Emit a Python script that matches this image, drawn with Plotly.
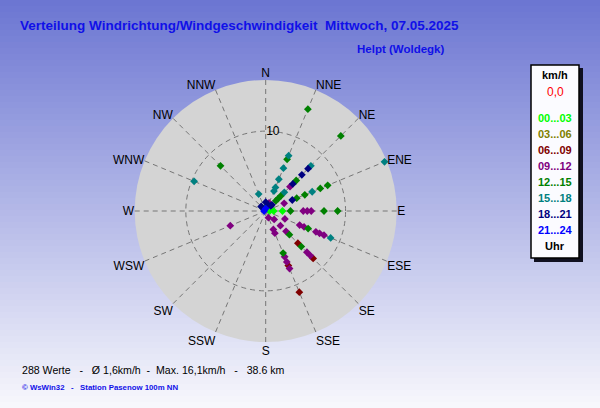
import plotly.graph_objects as go

# ---------------- data ----------------
compass = ["N", "NNE", "NE", "ENE", "E", "ESE", "SE", "SSE",
           "S", "SSW", "SW", "WSW", "W", "WNW", "NW", "NNW"]

bucket_labels = ["00...03", "03...06", "06...09", "09...12",
                 "12...15", "15...18", "18...21", "21...24"]

dir_00_03 = ["E", "E", "E", "NE"]
spd_00_03 = [2.1, 1.0, 0.5, 0.4]

dir_03_06 = []
spd_03_06 = []

dir_06_09 = ["SE", "SE", "SSE", "SSE"]
spd_06_09 = [5.7, 8.4, 7.4, 11.0]

dir_09_12 = ["E", "E", "E", "ENE", "NE", "NNE",
             "SSE", "SSE", "SSE", "SSE", "SSE", "SSE",
             "SE", "SE", "SE", "SE", "SE",
             "ESE", "ESE", "ESE", "ESE", "ESE", "ESE", "WSW"]
spd_09_12 = [4.7, 5.2, 5.7, 2.5, 4.3, 1.1,
             0.9, 2.5, 3.0, 6.2, 6.9, 7.8,
             1.5, 2.6, 3.6, 7.3, 7.9,
             2.6, 4.6, 5.2, 6.8, 7.3, 7.9, 4.8]

dir_12_15 = ["NNE", "NNE", "NE", "NE", "NE", "NE", "NE",
             "ENE", "ENE", "ENE", "ENE", "E", "E", "E",
             "SE", "SE", "ESE", "SSE", "NW"]
spd_12_15 = [13.8, 7.0, 13.3, 5.4, 2.7, 2.2, 1.8,
             8.4, 7.4, 5.3, 4.2, 9.0, 7.3, 3.1,
             4.2, 6.3, 5.75, 5.7, 8.0]

dir_15_18 = ["ENE", "ENE", "NE", "NE", "NNE", "NNE", "NNE", "NNE", "NNE",
             "NNW", "WNW", "ESE", "NW", "N"]
spd_15_18 = [16.1, 6.3, 8.0, 3.3, 7.5, 5.8, 4.3, 3.2, 2.7,
             2.3, 9.7, 8.8, 0.6, 0.5]

dir_18_21 = ["NE", "NE", "NE", "ENE", "N", "NNE", "NE", "NE", "NW"]
spd_18_21 = [7.5, 6.4, 4.8, 3.6, 1.1, 0.8, 1.1, 0.9, 0.8]

dir_21_24 = ["W", "N"]
spd_21_24 = [0.2, 0.3]

bucket_dirs = [dir_00_03, dir_03_06, dir_06_09, dir_09_12,
               dir_12_15, dir_15_18, dir_18_21, dir_21_24]
bucket_spds = [spd_00_03, spd_03_06, spd_06_09, spd_09_12,
               spd_12_15, spd_15_18, spd_18_21, spd_21_24]

radial_max = 16.4
title_text = "Verteilung Windrichtung/Windgeschwindigkeit  Mittwoch, 07.05.2025"
location_text = "Helpt (Woldegk)"
stats_text = "288 Werte   -   Ø 1,6km/h  -  Max. 16,1km/h   -   38.6 km"
credit_text = "© WsWin32   -   Station Pasenow 100m NN"

# ---------------- style ----------------
bucket_colors = ["#00ff00", "#808000", "#800000", "#800080",
                 "#008000", "#008080", "#000080", "#0000ff"]
W, H = 600, 408
FONT = "Liberation Sans, Arial, sans-serif"
deg = {c: i * 22.5 for i, c in enumerate(compass)}


def px(x):
    return x / W


def py(y):
    return 1 - y / H


def nbsp(s):
    return s.replace(" ", "\u00a0")


fig = go.Figure()
for lab, dirs, spds, col in zip(bucket_labels, bucket_dirs, bucket_spds, bucket_colors):
    fig.add_trace(go.Scatterpolar(
        r=spds, theta=[deg[d] for d in dirs], mode="markers", name=lab,
        marker=dict(symbol="diamond", size=6, color=col, line=dict(width=0)),
        showlegend=False, hoverinfo="skip"))

shapes = []
# background gradient
n = 68
top = (108, 118, 210)
bot = (247, 247, 252)
for i in range(n):
    t = i / (n - 1)
    c = tuple(round(top[k] + (bot[k] - top[k]) * t) for k in range(3))
    shapes.append(dict(type="rect", xref="paper", yref="paper", layer="below",
                       x0=0, x1=1, y0=1 - (i + 1) / n - 0.002, y1=1 - i / n,
                       line=dict(width=0), fillcolor="rgb(%d,%d,%d)" % c))
# legend box with shadow
shapes.append(dict(type="rect", xref="paper", yref="paper",
                   x0=px(534), x1=px(583), y0=py(262), y1=py(68),
                   line=dict(width=0), fillcolor="#101020"))
shapes.append(dict(type="rect", xref="paper", yref="paper",
                   x0=px(531), x1=px(579), y0=py(258), y1=py(65),
                   line=dict(width=1.5, color="black"), fillcolor="#fbfbff"))

ann = []
ann.append(dict(text=nbsp(title_text), x=px(18), y=py(25), xanchor="left", yanchor="middle",
                font=dict(family=FONT, size=13.5, color="#1010e8", weight="bold")))
ann.append(dict(text=nbsp(location_text), x=px(446), y=py(49), xanchor="right", yanchor="middle",
                font=dict(family=FONT, size=11.5, color="#1010e8", weight="bold")))
ann.append(dict(text=nbsp(stats_text), x=px(20), y=py(370), xanchor="left", yanchor="middle",
                font=dict(family=FONT, size=10.6, color="black")))
ann.append(dict(text=nbsp(credit_text), x=px(20), y=py(387), xanchor="left", yanchor="middle",
                font=dict(family=FONT, size=7.8, color="#1010e8", weight="bold")))

legend_rows = [("km/h", "black", True, 75), ("0,0", "red", False, 92)]
ys = [118, 134, 150, 166, 182, 198, 214, 230]
for lab, col, yy in zip(bucket_labels, bucket_colors, ys):
    legend_rows.append((lab, col, True, yy))
legend_rows.append(("Uhr", "black", True, 246))
for txt, col, bold, yy in legend_rows:
    ann.append(dict(text=txt, x=px(555), y=py(yy), xanchor="center", yanchor="middle",
                    font=dict(family=FONT, size=11 if bold else 12, color=col,
                              weight="bold" if bold else "normal")))
for a in ann:
    a.update(xref="paper", yref="paper", showarrow=False)

cx, cy, R = 265.7, 211, 131
grid_dash = "5px,4px"
fig.update_layout(
    width=W, height=H, margin=dict(l=0, r=0, t=0, b=0),
    paper_bgcolor="rgb(108,118,210)",
    shapes=shapes, annotations=ann, showlegend=False,
    polar=dict(
        domain=dict(x=[px(cx - R), px(cx + R)], y=[py(cy + R), py(cy - R)]),
        bgcolor="#d4d4d4",
        radialaxis=dict(range=[0, radial_max], tickvals=[10], ticktext=["10"],
                        showline=False, ticks="", angle=90, tickangle=90,
                        gridcolor="#767676", griddash=grid_dash, gridwidth=1,
                        tickfont=dict(family=FONT, size=12, color="black")),
        angularaxis=dict(direction="clockwise", rotation=90,
                         tickmode="array", tickvals=[deg[c] for c in compass], ticktext=compass,
                         showline=False, ticks="",
                         gridcolor="#767676", griddash=grid_dash, gridwidth=1,
                         tickfont=dict(family=FONT, size=12, color="black")),
    ),
)

fig.write_html("out.html", config={"displayModeBar": False},
               post_script="document.body.style.margin='0px';document.body.style.padding='0px';")
